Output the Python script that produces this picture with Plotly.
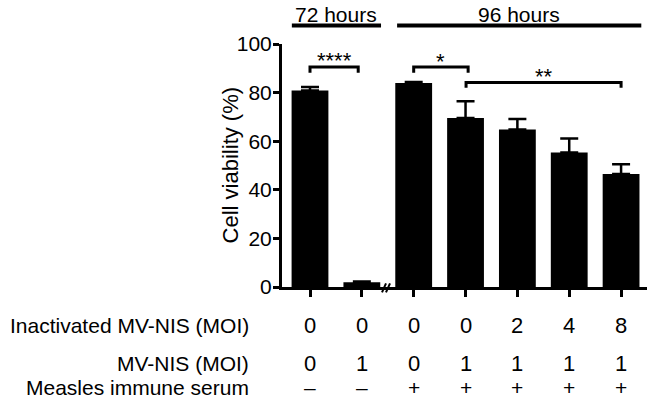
import plotly.graph_objects as go

# Data
groups = [0, 1, 2, 3, 4, 5, 6]
viability = [80.9, 2.0, 84.0, 69.5, 64.8, 55.4, 46.5]
viability_err = [1.4, 0.3, 0.4, 6.9, 4.3, 5.7, 4.0]
inactivated_moi = ["0", "0", "0", "0", "2", "4", "8"]
mvnis_moi = ["0", "1", "0", "1", "1", "1", "1"]
immune_serum = ["–", "–", "+", "+", "+", "+", "+"]
row_labels = ["Inactivated MV-NIS (MOI)", "MV-NIS (MOI)", "Measles immune serum"]
y_ticks = [0, 20, 40, 60, 80, 100]
headers = [("72 hours", -0.35, 1.37), ("96 hours", 1.68, 6.39)]
sig = [("****", 0, 0.93, 90.5, 88.2, 0.934), ("*", 2.0, 3.05, 90.5, 88.2, 0.926), ("**", 3.01, 6.0, 84.2, 82.0, 0.865)]

FONT = "Arial, Liberation Sans, Helvetica, sans-serif"

fig = go.Figure()
fig.add_trace(go.Bar(
    x=groups, y=viability, width=0.71,
    marker=dict(color="black", line=dict(width=0)),
    error_y=dict(type="data", array=viability_err, arrayminus=[0]*len(groups),
                 symmetric=False, color="black", thickness=2.5, width=9),
))

ann = []
rows = [inactivated_moi, mvnis_moi, immune_serum]
row_y = [-0.158, -0.314, -0.412]
row_val_size = [22, 22, 21]
for lab, vals, ry, vs in zip(row_labels, rows, row_y, row_val_size):
    ann.append(dict(text=lab, xref="paper", yref="paper", x=-0.084, y=ry,
                    xanchor="right", yanchor="middle", showarrow=False,
                    font=dict(size=21, color="black", family=FONT)))
    for g, v in zip(groups, vals):
        ann.append(dict(text=v, xref="x", yref="paper", x=g, y=ry,
                        xanchor="center", yanchor="middle", showarrow=False,
                        font=dict(size=vs, color="black", family=FONT)))

shapes = []
for txt, x0, x1 in headers:
    ann.append(dict(text=txt, xref="x", yref="paper", x=(x0 + x1) / 2, y=1.123,
                    xanchor="center", yanchor="middle", showarrow=False,
                    font=dict(size=21, color="black", family=FONT)))
    shapes.append(dict(type="line", xref="x", yref="paper", x0=x0, x1=x1,
                       y0=1.076, y1=1.076, line=dict(color="black", width=4)))

for txt, x0, x1, ytop, ybot, ty in sig:
    shapes.append(dict(type="path", xref="x", yref="y",
                       path=f"M {x0},{ybot} L {x0},{ytop} L {x1},{ytop} L {x1},{ybot}",
                       line=dict(color="black", width=3)))
    ann.append(dict(text=txt, xref="x", yref="paper", x=(x0 + x1) / 2, y=ty,
                    xanchor="center", yanchor="middle", showarrow=False,
                    font=dict(size=22, color="black", family=FONT)))

# axis break marks
for xs in [(1.389, 1.466), (1.466, 1.543)]:
    shapes.append(dict(type="line", xref="x", yref="paper", x0=xs[0], x1=xs[1],
                       y0=-0.022, y1=0.015, line=dict(color="black", width=2)))

ann.append(dict(text="Cell viability (%)", xref="paper", yref="paper", x=-0.14, y=0.5,
                textangle=-90, xanchor="center", yanchor="middle", showarrow=False,
                font=dict(size=22, color="black", family=FONT)))

fig.update_layout(
    width=652, height=401,
    margin=dict(l=282, r=5, t=44, b=114),
    plot_bgcolor="white", paper_bgcolor="white",
    showlegend=False,
    font=dict(family=FONT, size=21, color="black"),
    annotations=ann, shapes=shapes,
    xaxis=dict(range=[-0.54, 6.5], tickvals=groups, showticklabels=False,
               ticks="outside", ticklen=7, tickwidth=3, tickcolor="black",
               showline=True, linewidth=3, linecolor="black",
               showgrid=False, zeroline=False, fixedrange=True),
    yaxis=dict(range=[0, 100], tickvals=y_ticks, ticks="outside", ticklen=6,
               tickwidth=3, tickcolor="black", showline=True, linewidth=3,
               linecolor="black", showgrid=False, zeroline=False,
               ticklabelstandoff=-3,
               tickfont=dict(size=21, color="black", family=FONT), fixedrange=True),
)

fig.write_html("out.html", config={"displayModeBar": False, "staticPlot": True},
               post_script="document.body.style.margin='0';document.body.style.overflow='hidden';")
